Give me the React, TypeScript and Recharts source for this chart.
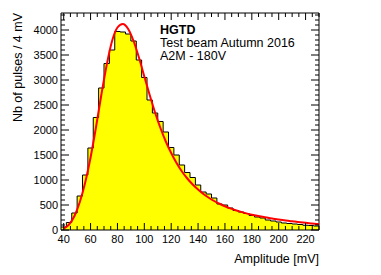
import React from 'react';
import { ComposedChart, Area, Line, XAxis, YAxis, ReferenceArea } from 'recharts';

// Histogram: lower bin edges (mV), 4 mV bins
const binLow = [
  38, 42, 46, 50, 54, 58, 62, 66, 70, 74, 78, 82, 86, 90, 94, 98,
  102, 106, 110, 114, 118, 122, 126, 130, 134, 138, 142, 146, 150, 154, 158, 162,
  166, 170, 174, 178, 182, 186, 190, 194, 198, 202, 206, 210, 214, 218, 222, 226,
];
const binUpperEnd = 230;
const counts = [
  60, 150, 340, 680, 1100, 1640, 2250, 2840, 3330, 3600, 3970, 3960, 3920, 3780, 3400, 3050,
  2600, 2340, 2170, 1960, 1650, 1500, 1300, 1150, 1050, 900, 760, 720, 640, 520, 500, 440,
  390, 360, 330, 290, 260, 240, 200, 180, 160, 140, 130, 120, 110, 95, 90, 80,
];

// Fit curve
const fitX = [
  40, 44, 48, 52, 56, 60, 64, 68, 72, 76, 80, 84, 88, 92, 96, 100,
  104, 108, 112, 116, 120, 124, 128, 132, 136, 140, 144, 148, 152, 156, 160, 164,
  168, 172, 176, 180, 184, 188, 192, 196, 200, 204, 208, 212, 216, 220, 224, 228, 230,
];
const fitY = [
  30, 110, 280, 560, 950, 1450, 2050, 2700, 3300, 3780, 4050, 4120, 4020, 3780, 3450, 3070,
  2700, 2350, 2040, 1770, 1540, 1340, 1170, 1030, 910, 810, 720, 645, 580, 525, 475, 433,
  395, 362, 333, 307, 284, 264, 246, 225, 210, 195, 180, 168, 155, 143, 132, 122, 118,
];

const xLabels = [40, 60, 80, 100, 120, 140, 160, 180, 200, 220];
const yLabels = [0, 500, 1000, 1500, 2000, 2500, 3000, 3500, 4000];
const xDomain = [38, 230];
const yDomain = [0, 4340];

const annotation = ['HGTD', 'Test beam Autumn 2016', 'A2M - 180V'];
const xTitle = 'Amplitude [mV]';
const yTitle = 'Nb of pulses / 4 mV';

const W = 381;
const H = 275;
const M = { top: 13, right: 62, left: 0, bottom: 0 };
const Y_AXIS_W = 61;
const X_AXIS_H = 45;
const PLOT_TOP = M.top;
const PLOT_RIGHT = W - M.right;
const FONT = '"Liberation Sans", Arial, Helvetica, sans-serif';

const histData = [
  ...binLow.map((x, i) => ({ x, y: counts[i] })),
  { x: binUpperEnd, y: counts[counts.length - 1] },
];
const fitData = fitX.map((x, i) => ({ x, y: fitY[i] }));

const xTicks = Array.from({ length: 39 }, (_, i) => 40 + i * 5);
const yTicks = Array.from({ length: 44 }, (_, i) => i * 100);

const XTick = (props: any) => {
  const { x, y, payload } = props;
  const v = payload.value;
  const major = v % 20 === 0;
  const len = major ? 7 : 4;
  return (
    <g>
      <line x1={x} x2={x} y1={y} y2={y - len} stroke="#000" strokeWidth={1} />
      <line x1={x} x2={x} y1={PLOT_TOP} y2={PLOT_TOP + len} stroke="#000" strokeWidth={1} />
      {major && xLabels.includes(v) ? (
        <text x={x} y={y + 13} textAnchor="middle" fontSize={11} fontFamily={FONT} fill="#000">
          {v}
        </text>
      ) : null}
    </g>
  );
};

const YTick = (props: any) => {
  const { x, y, payload } = props;
  const v = payload.value;
  const major = v % 500 === 0;
  const len = major ? 8 : 4;
  return (
    <g>
      <line x1={x} x2={x + len} y1={y} y2={y} stroke="#000" strokeWidth={1} />
      <line x1={PLOT_RIGHT} x2={PLOT_RIGHT - len} y1={y} y2={y} stroke="#000" strokeWidth={1} />
      {major && yLabels.includes(v) ? (
        <text x={x - 3} y={y + 4} textAnchor="end" fontSize={11} fontFamily={FONT} fill="#000">
          {v}
        </text>
      ) : null}
    </g>
  );
};

const XTitle = () => (
  <g>
    <text x={PLOT_RIGHT} y={263} textAnchor="end" fontSize={12.5} fontFamily={FONT} fill="#000">
      {xTitle}
    </text>
    <text x={160} y={34} fontSize={12.5} fontWeight="bold" fontFamily={FONT} fill="#000">
      {annotation[0]}
    </text>
    <text x={160} y={47} fontSize={12.5} fontFamily={FONT} fill="#000">
      {annotation[1]}
    </text>
    <text x={160} y={60} fontSize={12.5} fontFamily={FONT} fill="#000">
      {annotation[2]}
    </text>
  </g>
);

const YTitle = () => (
  <text
    x={0}
    y={0}
    transform={`translate(22, ${PLOT_TOP}) rotate(-90)`}
    textAnchor="end"
    fontSize={12.5}
    fontFamily={FONT}
    fill="#000"
  >
    {yTitle}
  </text>
);

export default function App() {
  return (
    <div style={{ position: 'absolute', left: 0, top: 0, width: W, height: H, background: '#fff' }}>
      <ComposedChart width={W} height={H} margin={M}>
        <XAxis
          type="number"
          dataKey="x"
          domain={xDomain}
          ticks={xTicks}
          interval={0}
          allowDataOverflow
          axisLine={false}
          tickLine={false}
          tickSize={0}
          tickMargin={0}
          height={X_AXIS_H}
          tick={XTick}
          label={XTitle}
        />
        <YAxis
          type="number"
          domain={yDomain}
          ticks={yTicks}
          interval={0}
          allowDataOverflow
          axisLine={false}
          tickLine={false}
          tickSize={0}
          tickMargin={0}
          width={Y_AXIS_W}
          tick={YTick}
          label={YTitle}
        />
        <Area
          data={histData}
          dataKey="y"
          type="stepAfter"
          fill="#ffff00"
          fillOpacity={1}
          stroke="#000"
          strokeWidth={1}
          isAnimationActive={false}
        />
        <Line
          data={fitData}
          dataKey="y"
          type="monotone"
          stroke="#ff0000"
          strokeWidth={2}
          dot={false}
          isAnimationActive={false}
        />
        <ReferenceArea
          x1={xDomain[0]}
          x2={xDomain[1]}
          y1={yDomain[0]}
          y2={yDomain[1]}
          fill="none"
          stroke="#000"
          strokeWidth={1}
          ifOverflow="visible"
        />
      </ComposedChart>
    </div>
  );
}
